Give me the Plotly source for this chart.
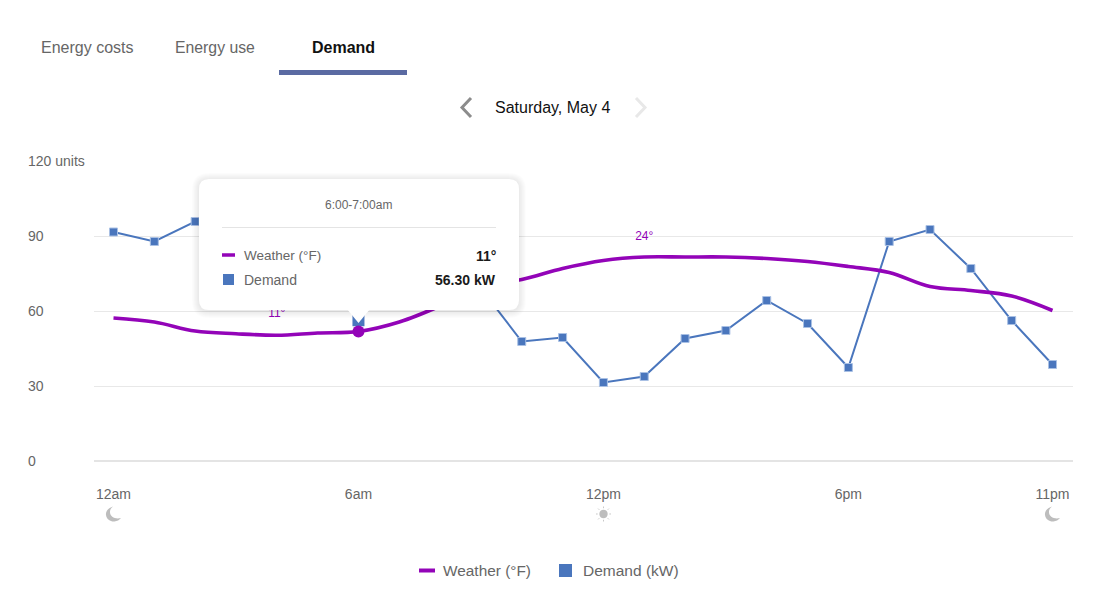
import plotly.graph_objects as go

FONT = "Liberation Sans"
hours = list(range(24))
weather = [57.2, 55.6, 52.0, 50.9, 50.3, 51.2, 51.8, 55.6, 62.0, 69.8, 72.6, 77.0,
           80.2, 81.6, 81.6, 81.6, 81.0, 79.8, 77.8, 75.4, 69.8, 68.2, 66.0, 60.2]
demand = [91.6, 87.8, 95.8, 90.0, 84.0, 80.0, 56.3, 78.0, 74.0, 69.0, 47.8, 49.4,
          31.4, 33.8, 49.0, 52.2, 64.2, 55.0, 37.4, 87.8, 92.6, 77.0, 56.2, 38.6]
weather_label_hours = [4, 13]
weather_label_pos = [59.0, 89.8]
weather_labels = ["11°", "24°"]
x_tick_vals = [0, 6, 12, 18, 23]
x_tick_text = ["12am", "6am", "12pm", "6pm", "11pm"]
y_tick_vals = [0, 30, 60, 90, 120]
y_tick_text = ["0", "30", "60", "90", "120 units"]
active_hour = 6

PURPLE = "#9304b8"
BLUE = "#4a76bd"
W, H = 1119, 614


def px(x):
    return x / W


def py(y):
    return 1 - y / H


def path(cmds):
    out = []
    for c in cmds:
        if isinstance(c, str):
            out.append(c)
        else:
            out.append(f"{px(c[0]):.5f},{py(c[1]):.5f}")
    return " ".join(out)


def round_rect(x0, y0, x1, y1, r):
    return path(["M", (x0 + r, y0), "L", (x1 - r, y0), "Q", (x1, y0), (x1, y0 + r),
                 "L", (x1, y1 - r), "Q", (x1, y1), (x1 - r, y1),
                 "L", (x0 + r, y1), "Q", (x0, y1), (x0, y1 - r),
                 "L", (x0, y0 + r), "Q", (x0, y0), (x0 + r, y0), "Z"])


shapes = []


def add_path(p, fill=None, line=None, width=0, opacity=1.0):
    shapes.append(dict(type="path", xref="paper", yref="paper", path=p, fillcolor=fill or "rgba(0,0,0,0)",
                       line=dict(color=line or "rgba(0,0,0,0)", width=width), opacity=opacity, layer="above"))


def moon(cx, cy):
    add_path(path(["M", (cx - 0.5, cy - 7.5),
                   "C", (cx - 5.5, cy - 6), (cx - 8, cy - 2.5), (cx - 7.5, cy + 1),
                   "C", (cx - 7, cy + 5.5), (cx - 2.5, cy + 8), (cx + 1, cy + 7.5),
                   "C", (cx + 3.5, cy + 7.2), (cx + 6, cy + 6), (cx + 7.5, cy + 4),
                   "C", (cx + 2, cy + 5.5), (cx - 3.5, cy + 3), (cx - 3.5, cy - 2),
                   "C", (cx - 3.5, cy - 4.5), (cx - 2, cy - 6.5), (cx - 0.5, cy - 7.5), "Z"]), fill="#bdbdbd")


def sun(cx, cy):
    add_path(path(["M", (cx - 4.2, cy), "C", (cx - 4.2, cy - 5.6), (cx + 4.2, cy - 5.6), (cx + 4.2, cy),
                   "C", (cx + 4.2, cy + 5.6), (cx - 4.2, cy + 5.6), (cx - 4.2, cy), "Z"]), fill="#bdbdbd")
    for a, b, c, d in [(0, -7.5, 0, -5.8), (0, 7.5, 0, 5.8), (-7.5, 0, -5.8, 0), (7.5, 0, 5.8, 0),
                       (-5.4, -5.4, -4.2, -4.2), (5.4, -5.4, 4.2, -4.2), (-5.4, 5.4, -4.2, 4.2), (5.4, 5.4, 4.2, 4.2)]:
        add_path(path(["M", (cx + a, cy + b), "L", (cx + c, cy + d)]), line="#c8c8c8", width=1)


# Tab underline, date chevrons
add_path(path(["M", (279, 70), "L", (407, 70), "L", (407, 75), "L", (279, 75), "Z"]), fill="#5a6aa2")
add_path(path(["M", (471, 98), "L", (462, 107.5), "L", (471, 117)]), line="#8c8c8c", width=3)
add_path(path(["M", (636, 98), "L", (645, 107.5), "L", (636, 117)]), line="#e8e8e8", width=3)

# Day/night icons
moon(113.5, 514)
sun(603.5, 514)
moon(1052.5, 514)

# Tooltip shadow + box
for i in range(7, 0, -1):
    add_path(round_rect(199 - i, 179 - i + 1, 519 + i, 310 + i + 1, 10 + i), fill="#000000", opacity=0.012)
add_path(round_rect(199, 179, 519, 310, 10), fill="#ffffff")
add_path(path(["M", (347, 309), "L", (358.5, 323), "L", (370, 309), "Z"]), fill="#ffffff")
add_path(path(["M", (222, 227.5), "L", (496, 227.5)]), line="#e4e4e4", width=1)
add_path(path(["M", (222, 255), "L", (235, 255)]), line=PURPLE, width=3.5)
add_path(path(["M", (223, 274), "L", (234, 274), "L", (234, 285), "L", (223, 285), "Z"]), fill=BLUE)

# Legend marks
add_path(path(["M", (419, 570.5), "L", (435, 570.5)]), line=PURPLE, width=4)
add_path(path(["M", (559, 564), "L", (572, 564), "L", (572, 577), "L", (559, 577), "Z"]), fill=BLUE)


def label(x, y, text, size=13, color="#666666", anchor="left", bold=False):
    return dict(xref="paper", yref="paper", x=px(x), y=py(y), text=f"<b>{text}</b>" if bold else text,
                showarrow=False, xanchor=anchor, yanchor="middle", borderpad=0, borderwidth=0,
                font=dict(family=FONT, size=size, color=color))


annotations = [
    label(41, 47.5, "Energy costs", 16),
    label(175, 47.5, "Energy use", 15.8),
    label(343, 47.5, "Demand", 16, "#111111", "center", True),
    label(552.5, 107.5, "Saturday, May 4", 16, "#111111", "center"),
    label(358.5, 204.5, "6:00-7:00am", 12, "#666666", "center"),
    label(244, 255.5, "Weather (°F)", 13.5),
    label(244, 279.5, "Demand", 14),
    label(496, 255.5, "11°", 14, "#1a1a1a", "right", True),
    label(496, 279.5, "56.30 kW", 14, "#1a1a1a", "right", True),
    label(443, 570.5, "Weather (°F)", 15.4),
    label(583, 570.5, "Demand (kW)", 15.5),
]
for val, txt in zip(y_tick_vals, y_tick_text):
    annotations.append(dict(xref="paper", yref="y", x=px(28), y=val, text=txt, showarrow=False,
                            xanchor="left", yanchor="middle", borderpad=0, borderwidth=0,
                            font=dict(family=FONT, size=14, color="#666666")))

fig = go.Figure()
fig.add_trace(go.Scatter(x=hours, y=demand, mode="lines+markers", name="Demand (kW)",
                         line=dict(color=BLUE, width=2),
                         marker=dict(symbol="square", size=8, color=BLUE,
                                     line=dict(color="#a9c0e4", width=1))))
fig.add_trace(go.Scatter(x=[hours[active_hour]], y=[demand[active_hour]], mode="markers",
                         marker=dict(symbol="square", size=12, color=BLUE), showlegend=False))
fig.add_trace(go.Scatter(x=hours, y=weather, mode="lines", name="Weather (°F)",
                         line=dict(color=PURPLE, width=3.6, shape="spline", smoothing=1.0)))
fig.add_trace(go.Scatter(x=[hours[active_hour]], y=[weather[active_hour]], mode="markers",
                         marker=dict(size=12, color=PURPLE), showlegend=False))
fig.add_trace(go.Scatter(x=weather_label_hours, y=weather_label_pos, mode="text", text=weather_labels,
                         textposition="middle center", showlegend=False,
                         textfont=dict(family=FONT, size=12, color=PURPLE)))

fig.update_layout(
    width=W, height=H, margin=dict(l=0, r=0, t=0, b=0), paper_bgcolor="white", plot_bgcolor="white",
    showlegend=False, hovermode=False, shapes=shapes, annotations=annotations,
    font=dict(family=FONT, color="#666666"),
    xaxis=dict(domain=[94 / W, 1073 / W], range=[-19.5 / 40.826, (1073 - 113.5) / 40.826],
               tickmode="array", tickvals=x_tick_vals, ticktext=x_tick_text, showgrid=False, zeroline=False,
               ticks="outside", ticklen=20, tickcolor="rgba(0,0,0,0)", tickfont=dict(family=FONT, size=14, color="#666666"),
               showline=False),
    yaxis=dict(domain=[(H - 461) / H, (H - 161) / H], range=[0, 120], tickmode="array",
               tickvals=y_tick_vals, ticktext=y_tick_text, showticklabels=False, ticks="",
               gridcolor="#e8e8e8", gridwidth=1,
               zeroline=True, zerolinecolor="#e4e4e4", zerolinewidth=2, showline=False),
)
fig.write_html("out.html", config=dict(displayModeBar=False),
               post_script="document.body.style.margin='0';document.body.style.overflow='hidden';")
